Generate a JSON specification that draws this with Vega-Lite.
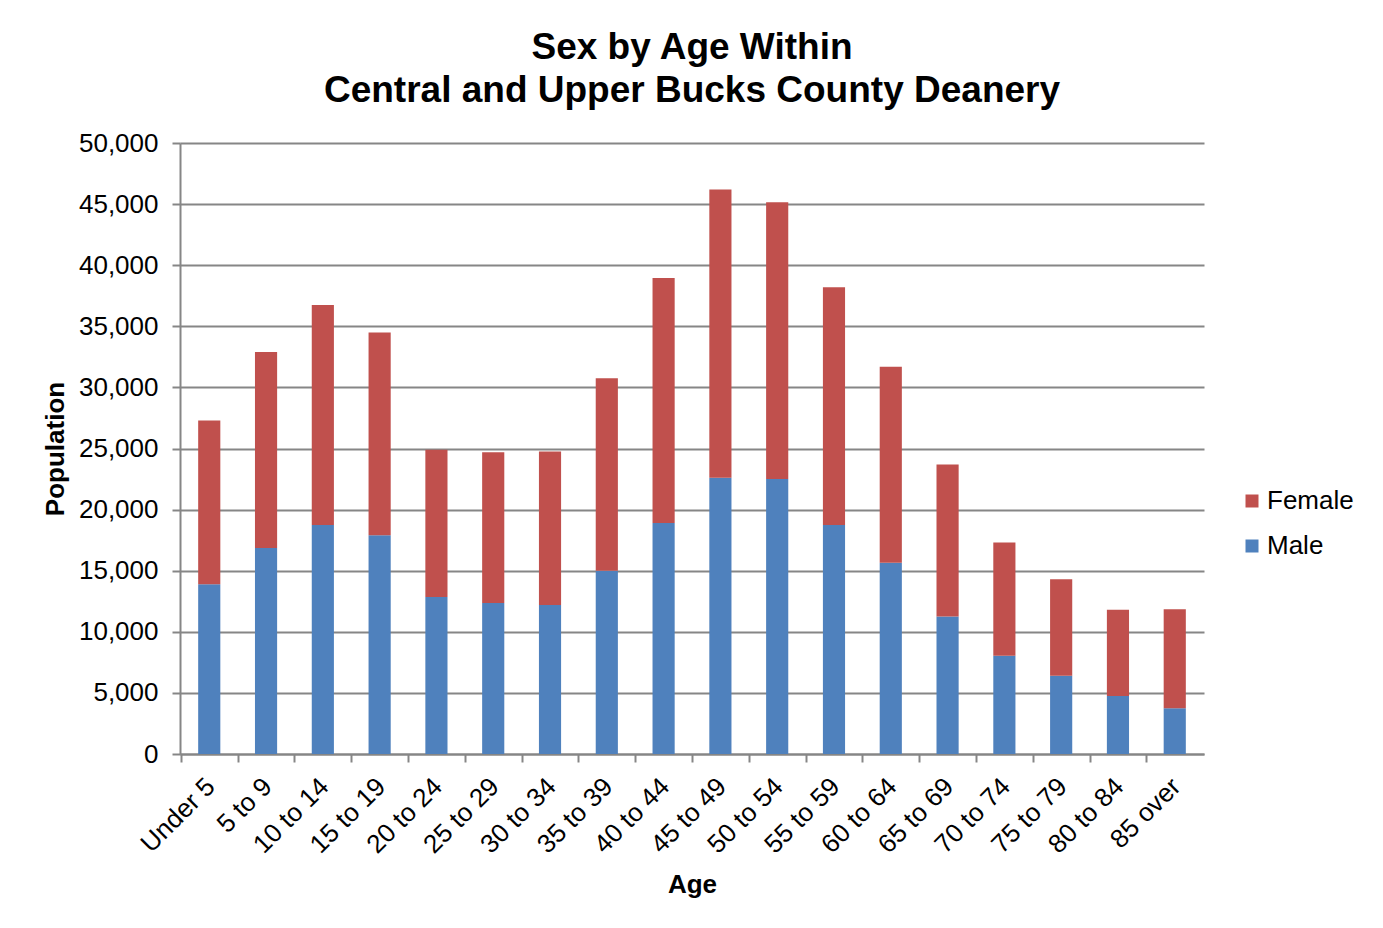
{
  "$schema": "https://vega.github.io/schema/vega-lite/v6.json",
  "width": 1024,
  "height": 611,
  "autosize": {"type": "none"},
  "padding": {"left": 180, "top": 143, "right": 179, "bottom": 174},
  "background": "white",
  "title": {
    "text": ["Sex by Age Within", "Central and Upper Bucks County Deanery"],
    "font": "Liberation Sans",
    "fontSize": 37,
    "fontWeight": "bold",
    "color": "black",
    "anchor": "middle",
    "lineHeight": 43,
    "offset": 20
  },
  "data": {
    "values": [
      {"age": "Under 5", "sex": "Male", "population": 13900},
      {"age": "Under 5", "sex": "Female", "population": 13400},
      {"age": "5 to 9", "sex": "Male", "population": 16850},
      {"age": "5 to 9", "sex": "Female", "population": 16050},
      {"age": "10 to 14", "sex": "Male", "population": 18750},
      {"age": "10 to 14", "sex": "Female", "population": 18000},
      {"age": "15 to 19", "sex": "Male", "population": 17900},
      {"age": "15 to 19", "sex": "Female", "population": 16600},
      {"age": "20 to 24", "sex": "Male", "population": 12850},
      {"age": "20 to 24", "sex": "Female", "population": 12050},
      {"age": "25 to 29", "sex": "Male", "population": 12350},
      {"age": "25 to 29", "sex": "Female", "population": 12350},
      {"age": "30 to 34", "sex": "Male", "population": 12200},
      {"age": "30 to 34", "sex": "Female", "population": 12550},
      {"age": "35 to 39", "sex": "Male", "population": 15000},
      {"age": "35 to 39", "sex": "Female", "population": 15750},
      {"age": "40 to 44", "sex": "Male", "population": 18900},
      {"age": "40 to 44", "sex": "Female", "population": 20050},
      {"age": "45 to 49", "sex": "Male", "population": 22600},
      {"age": "45 to 49", "sex": "Female", "population": 23600},
      {"age": "50 to 54", "sex": "Male", "population": 22500},
      {"age": "50 to 54", "sex": "Female", "population": 22650},
      {"age": "55 to 59", "sex": "Male", "population": 18750},
      {"age": "55 to 59", "sex": "Female", "population": 19450},
      {"age": "60 to 64", "sex": "Male", "population": 15650},
      {"age": "60 to 64", "sex": "Female", "population": 16050},
      {"age": "65 to 69", "sex": "Male", "population": 11250},
      {"age": "65 to 69", "sex": "Female", "population": 12450},
      {"age": "70 to 74", "sex": "Male", "population": 8050},
      {"age": "70 to 74", "sex": "Female", "population": 9250},
      {"age": "75 to 79", "sex": "Male", "population": 6400},
      {"age": "75 to 79", "sex": "Female", "population": 7900},
      {"age": "80 to 84", "sex": "Male", "population": 4750},
      {"age": "80 to 84", "sex": "Female", "population": 7050},
      {"age": "85 over", "sex": "Male", "population": 3750},
      {"age": "85 over", "sex": "Female", "population": 8100}
    ]
  },
  "mark": {"type": "bar"},
  "encoding": {
    "x": {
      "field": "age",
      "type": "nominal",
      "sort": null,
      "scale": {"paddingInner": 0.61, "paddingOuter": 0.32},
      "axis": {
        "title": "Age",
        "titleFont": "Liberation Sans",
        "titleFontSize": 26,
        "titleFontWeight": "bold",
        "titleColor": "black",
        "titlePadding": 14,
        "labelFont": "Liberation Sans",
        "labelFontSize": 26,
        "labelColor": "black",
        "labelAngle": -45,
        "labelPadding": 11,
        "tickOffset": -28.44,
        "labelOffset": 20.44,
        "tickSize": 8,
        "tickColor": "#868686",
        "tickWidth": 2,
        "domainColor": "#868686",
        "domainWidth": 2,
        "grid": false
      }
    },
    "y": {
      "field": "population",
      "type": "quantitative",
      "aggregate": "sum",
      "stack": "zero",
      "scale": {"domain": [0, 50000], "nice": false},
      "axis": {
        "title": "Population",
        "titleFont": "Liberation Sans",
        "titleFontSize": 26,
        "titleFontWeight": "bold",
        "titleColor": "black",
        "titlePadding": 10,
        "labelFont": "Liberation Sans",
        "labelFontSize": 26,
        "labelColor": "black",
        "labelPadding": 14,
        "values": [0, 5000, 10000, 15000, 20000, 25000, 30000, 35000, 40000, 45000, 50000],
        "format": ",d",
        "tickSize": 8,
        "tickColor": "#868686",
        "tickWidth": 2,
        "domainColor": "#868686",
        "domainWidth": 2,
        "grid": true,
        "gridColor": "#868686",
        "gridWidth": 2
      }
    },
    "color": {
      "field": "sex",
      "type": "nominal",
      "scale": {"domain": ["Female", "Male"], "range": ["#C0504D", "#4F81BD"]},
      "legend": {
        "title": null,
        "orient": "none",
        "legendX": 1059,
        "legendY": 345,
        "symbolType": "square",
        "symbolSize": 169,
        "symbolStrokeWidth": 0,
        "labelFont": "Liberation Sans",
        "labelFontSize": 26,
        "labelColor": "black",
        "labelOffset": 2,
        "rowPadding": 19
      }
    },
    "order": {"field": "sex", "sort": "descending"}
  },
  "config": {
    "view": {"stroke": null}
  }
}
